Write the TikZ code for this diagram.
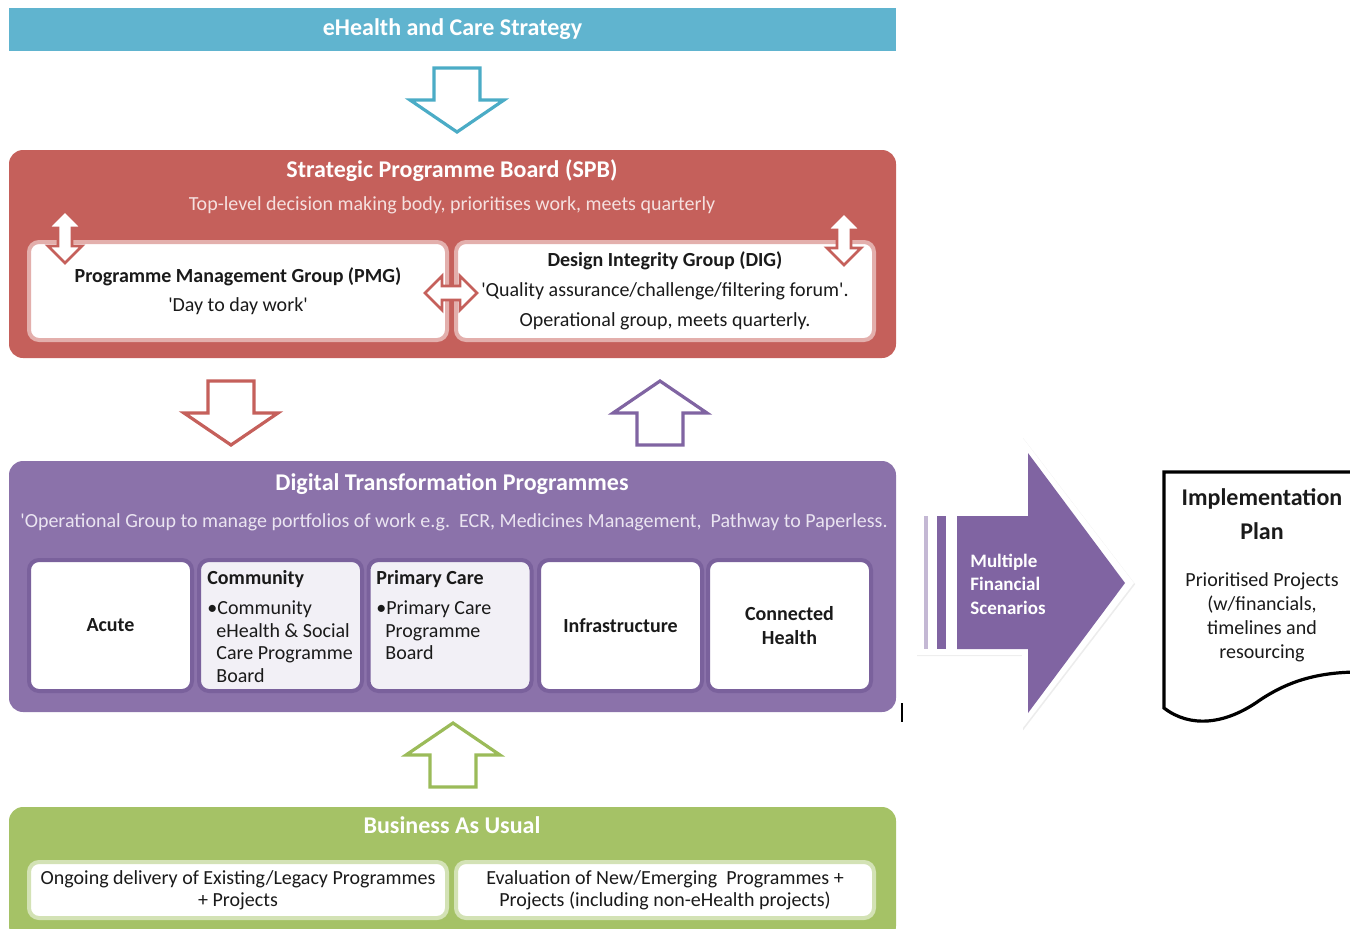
\documentclass[tikz,border=0pt]{standalone}
\usepackage{fontspec}
\setmainfont{Carlito}
\usetikzlibrary{shadows}

\definecolor{strategyblue}{HTML}{60B4CF}
\definecolor{arrowblue}{HTML}{4BACC6}
\definecolor{spbred}{HTML}{C5605B}
\definecolor{spbring}{HTML}{E3AFAC}
\definecolor{spbtext}{HTML}{F5E0DF}
\definecolor{dtppurple}{HTML}{8B72AA}
\definecolor{dtpring}{HTML}{7A619C}
\definecolor{dtptext}{HTML}{EAE4F1}
\definecolor{dtplight}{HTML}{F2F0F6}
\definecolor{scenpurple}{HTML}{8064A2}
\definecolor{baugreen}{HTML}{A5C266}
\definecolor{baugreenline}{HTML}{9BBB59}
\definecolor{bauring}{HTML}{D3E2B5}
\definecolor{textdark}{HTML}{1A1A1A}

\begin{document}
\begin{tikzpicture}[x=0.5pt,y=-0.5pt]
\tikzset{band/.style={inner sep=0pt,minimum width=443.5pt,rounded corners=7pt}}
\tikzset{panel/.style={draw=#1,line width=2pt,fill=white,rounded corners=5pt,inner sep=0pt}}
\tikzset{prog/.style={panel=dtpring,minimum width=81.5pt,minimum height=65.5pt}}
\tikzset{headline/.style={text=white,font=\bfseries\fontsize{12}{14}\selectfont}}
\tikzset{boxtext/.style={text=textdark,font=\fontsize{10}{12}\selectfont,align=center,inner sep=0pt}}
\tikzset{hollow/.style={draw=#1,line width=1.6pt,fill=white,line join=miter}}
\tikzset{pics/fatup/.style={code={\draw[hollow=#1] (-23,32) -- (-23,0) -- (-47,0) -- (0,-32) -- (47,0) -- (23,0) -- (23,32) -- cycle;}}}
\tikzset{pics/twoway/.style={code={\draw[hollow=#1,line width=1.4pt] (0,-26) -- (17,-9) -- (7,-9) -- (7,9) -- (17,9) -- (0,26) -- (-17,9) -- (-7,9) -- (-7,-9) -- (-17,-9) -- cycle;}}}

\useasboundingbox (0,0) rectangle (1350,928);

% strategy
\node[band,fill=strategyblue,rounded corners=0pt,minimum height=21.5pt,headline] (strategy) at (452.5,29.5) {eHealth and Care Strategy};
\pic[rotate=180] at (457,100) {fatup=arrowblue};

% strategic programme board
\node[band,fill=spbred,minimum height=104pt] (spb) at (452.5,254) {};
\node[headline] (spbtitle) at (452,171) {Strategic Programme Board (SPB)};
\node[boxtext,text=spbtext] (spbsub) at (452,205) {Top-level decision making body, prioritises work, meets quarterly};
\node[panel=spbring,minimum width=209pt,minimum height=49pt,boxtext] (pmg) at (238,291)
  {\textbf{Programme Management Group (PMG)}\\[2.5pt]\textquotesingle Day to day work\textquotesingle};
\node[panel=spbring,minimum width=209pt,minimum height=49pt,boxtext] (dig) at (665,291)
  {\textbf{Design Integrity Group (DIG)}\\[3pt]\textquotesingle Quality assurance/challenge/filtering forum\textquotesingle.\\[3pt]Operational group, meets quarterly.};
\pic at (65,237) {twoway=spbred};
\pic at (844,239) {twoway=spbred};
\pic[rotate=90] at (451,293) {twoway=spbred};

\pic[rotate=180] at (231,413) {fatup=spbred};
\pic at (660,413) {fatup=scenpurple};

% digital transformation programmes
\node[band,fill=dtppurple,minimum height=125.5pt] (dtp) at (452.5,586.5) {};
\node[headline] (dtptitle) at (452,484) {Digital Transformation Programmes};
\node[boxtext,text=dtptext] (dtpsub) at (454,522) {\textquotesingle Operational Group to manage portfolios of work e.g.\ \ ECR, Medicines Management,\ \ Pathway to Paperless.};
\node[prog,boxtext] (acute) at (110.5,625.5) {\textbf{Acute}};
\node[prog,fill=dtplight] (community) at (280.5,625.5) {};
\node[boxtext,align=left,anchor=north west,font=\fontsize{10}{11.2}\selectfont] (communitytext) at (207,570)
  {\textbf{Community}\\[4pt]\textbullet Community\\\hspace*{4.5pt}eHealth \& Social\\\hspace*{4.5pt}Care Programme\\\hspace*{4.5pt}Board};
\node[prog,fill=dtplight] (primary) at (450,625.5) {};
\node[boxtext,align=left,anchor=north west,font=\fontsize{10}{11.2}\selectfont] (primarytext) at (376,570)
  {\textbf{Primary Care}\\[4pt]\textbullet Primary Care\\\hspace*{4.5pt}Programme\\\hspace*{4.5pt}Board};
\node[prog,boxtext] (infra) at (620.5,625.5) {\textbf{Infrastructure}};
\node[prog,boxtext] (connected) at (789.5,625.5) {\textbf{Connected}\\\textbf{Health}};
\draw[line width=1pt] (902,703) -- (902,722);

\pic at (453,755) {fatup=baugreenline};

% business as usual
\node[band,fill=baugreen,minimum height=66.5pt] (bau) at (452.5,873.5) {};
\node[headline] (bautitle) at (452,825) {Business As Usual};
\node[panel=bauring,minimum width=209pt,minimum height=28pt,boxtext,font=\fontsize{10}{11}\selectfont] (ongoing) at (238,890)
  {Ongoing delivery of Existing/Legacy Programmes\\+ Projects};
\node[panel=bauring,minimum width=209pt,minimum height=28pt,boxtext,font=\fontsize{10}{11}\selectfont] (evaluation) at (665,890)
  {Evaluation of New/Emerging\ \ Programmes +\\Projects (including non-eHealth projects)};

% scenarios arrow
\fill[white,drop shadow={opacity=0.15,shadow xshift=0.6pt,shadow yshift=-0.6pt}] (916,510) -- (1022,510) -- (1022,437) -- (1134,583) -- (1022,729) -- (1022,655) -- (916,655) -- cycle;
\fill[dtplight!60!scenpurple] (924,516) rectangle (928,649);
\fill[scenpurple] (937,516) rectangle (946,649);
\fill[scenpurple] (957,516) -- (1028,516) -- (1028,453) -- (1125,583) -- (1028,713) -- (1028,649) -- (957,649) -- cycle;
\node[text=white,font=\bfseries\fontsize{9.5}{11.75}\selectfont,align=left,anchor=west,inner sep=0pt] (scen) at (970,584) {Multiple\\Financial\\Scenarios};

% implementation plan
\draw[line width=1.6pt,fill=white] (1360,472) -- (1164,472) -- (1164,708) .. controls (1190,728) and (1225,725) .. (1260,700) .. controls (1290,680) and (1320,672) .. (1360,672);
\node[boxtext,font=\bfseries\fontsize{12}{17}\selectfont] (plantitle) at (1262,514) {Implementation\\Plan};
\node[boxtext,font=\fontsize{10}{12}\selectfont] (plantext) at (1262,617) {Prioritised Projects\\(w/financials,\\timelines and\\resourcing};

\end{tikzpicture}
\end{document}
